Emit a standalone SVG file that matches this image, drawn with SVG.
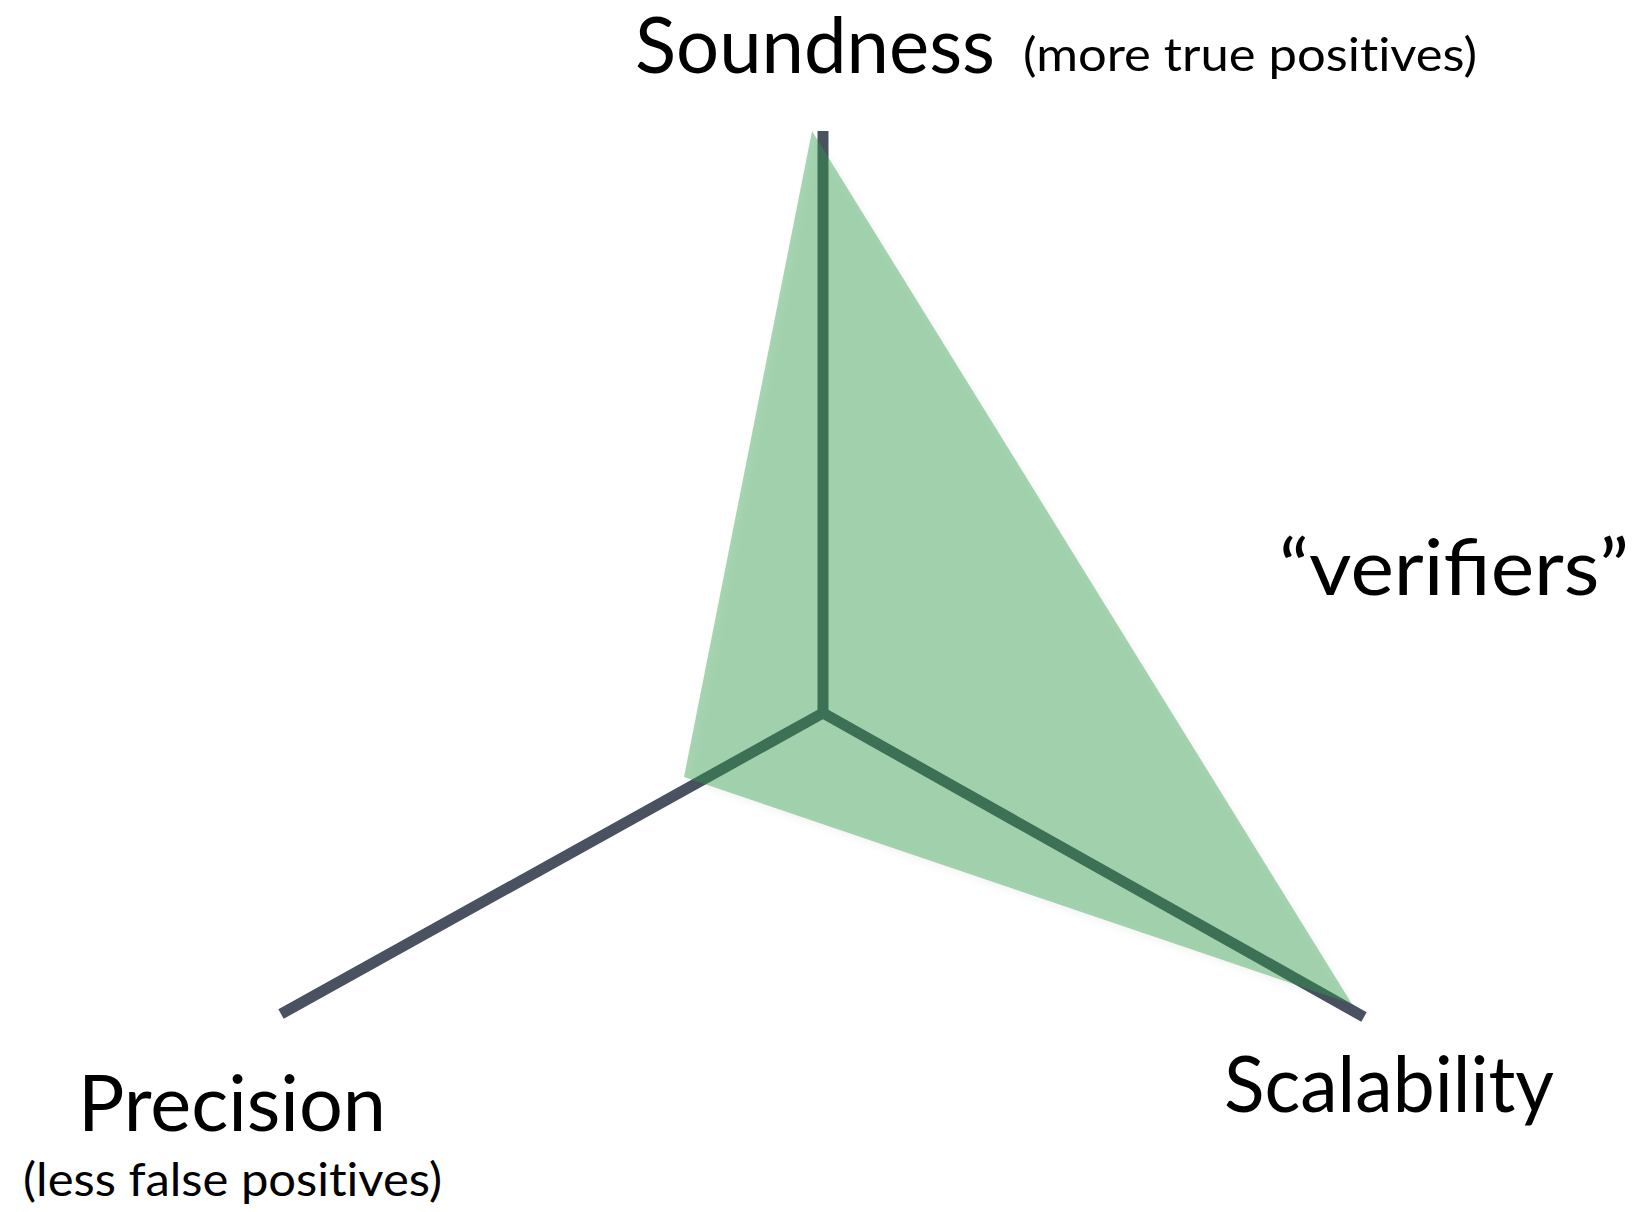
<svg xmlns="http://www.w3.org/2000/svg" width="1637" height="1212" viewBox="0 0 1637 1212">
<style>
.big{font-family:Lato,"Open Sans","Liberation Sans",sans-serif;font-size:77px;fill:#000}
.small{font-family:Lato,"Open Sans","Liberation Sans",sans-serif;font-size:47px;fill:#000;font-variant-ligatures:none;font-feature-settings:"liga" 0,"clig" 0,"dlig" 0}
.axis{stroke:#4a5261;stroke-width:11;fill:none;stroke-linecap:butt}
</style>
<defs>
<filter id="sh" x="-10%" y="-10%" width="120%" height="120%">
<feGaussianBlur in="SourceAlpha" stdDeviation="4"/>
<feOffset dx="3" dy="4" result="b"/>
<feComponentTransfer><feFuncA type="linear" slope="0.12"/></feComponentTransfer>
<feMerge><feMergeNode/><feMergeNode in="SourceGraphic"/></feMerge>
</filter>
</defs>
<g id="connectors">
<line class="axis" x1="823" y1="131" x2="823" y2="713"/>
<line class="axis" x1="823" y1="713" x2="281" y2="1014"/>
<line class="axis" x1="823" y1="713" x2="1364" y2="1017"/>
</g>
<g id="region">
<polygon points="812,131 684,777 1352,1004" fill="#309a48" fill-opacity="0.42" filter="url(#sh)"/>
</g>
<g id="soundness">
<text class="big" x="635" y="73" textLength="360" lengthAdjust="spacingAndGlyphs">Soundness</text>
<text class="small" x="1023" y="71" textLength="454" lengthAdjust="spacingAndGlyphs">(more true positives)</text>
</g>
<g id="verifiers">
<text class="big" x="1279" y="595" textLength="350" lengthAdjust="spacingAndGlyphs">“verifiers”</text>
</g>
<g id="scalability">
<text class="big" x="1224" y="1112" textLength="330" lengthAdjust="spacingAndGlyphs">Scalability</text>
</g>
<g id="precision">
<text class="big" x="78" y="1131" textLength="308" lengthAdjust="spacingAndGlyphs">Precision</text>
<text class="small" x="23" y="1196" textLength="419" lengthAdjust="spacingAndGlyphs">(less false positives)</text>
</g>
</svg>
